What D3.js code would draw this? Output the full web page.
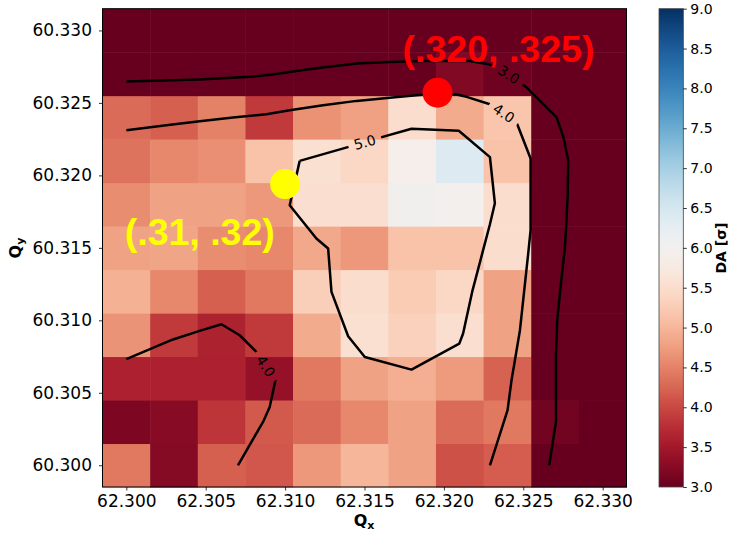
<!DOCTYPE html>
<html>
<head>
<meta charset="utf-8">
<script src="https://cdn.jsdelivr.net/npm/d3@7"></script>
<style>
  body { margin: 0; background: #fff; }
  svg { font-family: "DejaVu Sans", sans-serif; }
</style>
</head>
<body>
<div id="chart"></div>
<script>
// cell centres of the scan
const qx = [62.300, 62.303, 62.306, 62.309, 62.312, 62.315, 62.318, 62.321, 62.324, 62.327, 62.330];
const qy = [60.300, 60.303, 60.306, 60.309, 60.312, 60.315, 60.318, 60.321, 60.324, 60.327, 60.330];

// DA [sigma], one row per qy (bottom row first), one value per qx
const da = [
  [4.42, 3.24, 4.20, 4.12, 4.70, 5.00, 4.80, 4.08, 4.18, 2.80, 2.80],
  [3.18, 3.26, 3.83, 4.15, 4.30, 4.55, 4.80, 4.30, 4.42, 3.10, 2.80],
  [3.60, 3.60, 3.60, 3.38, 4.42, 4.80, 4.92, 4.72, 4.22, 2.80, 2.80],
  [4.65, 3.87, 3.62, 3.87, 4.88, 5.55, 5.32, 5.54, 4.80, 2.80, 2.80],
  [4.95, 4.55, 4.20, 4.42, 5.30, 5.50, 5.25, 5.42, 4.80, 2.80, 2.80],
  [4.80, 4.82, 4.60, 4.55, 4.85, 4.70, 5.15, 5.15, 5.50, 2.80, 2.80],
  [4.60, 4.80, 4.80, 4.70, 5.52, 5.52, 6.02, 5.95, 5.50, 2.80, 2.80],
  [4.37, 4.55, 4.62, 5.15, 5.55, 5.42, 5.91, 6.39, 5.15, 2.80, 2.80],
  [4.30, 4.20, 4.50, 3.87, 4.64, 4.78, 5.50, 4.88, 5.17, 2.80, 2.80],
  [2.80, 2.80, 2.80, 2.80, 2.80, 2.80, 2.80, 3.22, 3.06, 2.80, 2.80],
  [2.80, 2.80, 2.80, 2.80, 2.80, 2.80, 2.80, 2.80, 2.80, 2.80, 2.80]
];

const xTicks = [62.300, 62.305, 62.310, 62.315, 62.320, 62.325, 62.330];
const yTicks = [60.300, 60.305, 60.310, 60.315, 60.320, 60.325, 60.330];
const cbTicks = [3.0, 3.5, 4.0, 4.5, 5.0, 5.5, 6.0, 6.5, 7.0, 7.5, 8.0, 8.5, 9.0];

// contour lines, [qx, qy]
const contour30 = [
  [62.30000, 60.32647], [62.30462, 60.32662], [62.30777, 60.32680], [62.30922, 60.32696],
  [62.31092, 60.32723], [62.31237, 60.32745], [62.31450, 60.32772], [62.31659, 60.32783],
  [62.31867, 60.32790], [62.32080, 60.32790], [62.32164, 60.32789], [62.32290, 60.32765],
  [62.32517, 60.32611], [62.32710, 60.32400], [62.32752, 60.32266], [62.32783, 60.32105],
  [62.32779, 60.31852], [62.32769, 60.31622], [62.32762, 60.31507], [62.32735, 60.31231],
  [62.32714, 60.31001], [62.32706, 60.30773], [62.32706, 60.30299], [62.32663, 60.30000]
];
const contour40top = [
  [62.30000, 60.32312], [62.30252, 60.32346], [62.30462, 60.32374], [62.30672, 60.32400],
  [62.30882, 60.32422], [62.31029, 60.32450], [62.31239, 60.32484], [62.31450, 60.32514],
  [62.31659, 60.32535], [62.31828, 60.32553], [62.31956, 60.32564], [62.32080, 60.32558],
  [62.32143, 60.32542], [62.32290, 60.32491], [62.32462, 60.32353], [62.32546, 60.32117],
  [62.32546, 60.31622], [62.32531, 60.31461], [62.32479, 60.30932], [62.32426, 60.30587],
  [62.32401, 60.30380], [62.32290, 60.30000]
];
const contour40low = [
  [62.30000, 60.30732], [62.30294, 60.30868], [62.30462, 60.30927], [62.30599, 60.30973],
  [62.30714, 60.30897], [62.30819, 60.30782], [62.30939, 60.30587], [62.30903, 60.30402],
  [62.30861, 60.30299], [62.30703, 60.30000]
];
const contour50 = [
  [62.31092, 60.32100], [62.31395, 60.32195], [62.31609, 60.32264], [62.31796, 60.32322],
  [62.32094, 60.32308], [62.32290, 60.32126], [62.32321, 60.31808], [62.32290, 60.31663],
  [62.32247, 60.31484], [62.32178, 60.31196], [62.32121, 60.30909], [62.32097, 60.30839],
  [62.31796, 60.30660], [62.31502, 60.30747], [62.31397, 60.30890], [62.31292, 60.31196],
  [62.31271, 60.31496], [62.31197, 60.31565], [62.31029, 60.31794], [62.31092, 60.32100]
];
const contours = [contour30, contour40top, contour40low, contour50];

const levelLabels = [
  { text: "3.0", x: 62.32409, y: 60.32695, angle: 33 },
  { text: "4.0", x: 62.32378, y: 60.32429, angle: 33 },
  { text: "5.0", x: 62.31502, y: 60.32229, angle: -16 },
  { text: "4.0", x: 62.30878, y: 60.30683, angle: 58 }
];

// working points and their annotations
const points = [
  { x: 62.3196, y: 60.3257, color: "#ff0000", text: "(.320, .325)", tx: 62.3174, ty: 60.3278 },
  { x: 62.3100, y: 60.3194, color: "#ffff00", text: "(.31, .32)", tx: 62.2999, ty: 60.3152 }
];

const width = 729, height = 534;

const svg = d3.select("#chart").append("svg")
    .attr("width", width)
    .attr("height", height);

const step = qx[1] - qx[0];
const x = d3.scaleLinear()
    .domain([qx[0] - step / 2, qx[qx.length - 1] + step / 2])
    .range([102.5, 626.5]);
const y = d3.scaleLinear()
    .domain([qy[0] - step / 2, qy[qy.length - 1] + step / 2])
    .range([487, 8.7]);

const color = d3.scaleSequential(d3.interpolateRdBu).domain([3, 9]).clamp(true);

// heatmap cells
const cells = [];
da.forEach((row, j) => row.forEach((v, i) => cells.push({ qx: qx[i], qy: qy[j], v: v })));

svg.append("g")
  .selectAll("rect")
  .data(cells)
  .join("rect")
    .attr("x", d => x(d.qx - step / 2))
    .attr("y", d => y(d.qy + step / 2))
    .attr("width", d => x(d.qx + step / 2) - x(d.qx - step / 2) + 0.5)
    .attr("height", d => y(d.qy - step / 2) - y(d.qy + step / 2) + 0.5)
    .attr("fill", d => color(d.v));

// mask to cut the contour lines under their labels
const defs = svg.append("defs");
const mask = defs.append("mask").attr("id", "label-gaps");
mask.append("rect").attr("width", width).attr("height", height).attr("fill", "white");
mask.selectAll("rect.gap")
  .data(levelLabels)
  .join("rect")
    .attr("class", "gap")
    .attr("x", -17).attr("y", -8)
    .attr("width", 34).attr("height", 16)
    .attr("fill", "black")
    .attr("transform", d => `translate(${x(d.x)},${y(d.y)}) rotate(${d.angle})`);

const line = d3.line().x(d => x(d[0])).y(d => y(d[1]));

svg.append("g")
    .attr("mask", "url(#label-gaps)")
  .selectAll("path")
  .data(contours)
  .join("path")
    .attr("d", line)
    .attr("fill", "none")
    .attr("stroke", "black")
    .attr("stroke-width", 2.5)
    .attr("stroke-linejoin", "round");

svg.append("g")
  .selectAll("text")
  .data(levelLabels)
  .join("text")
    .attr("transform", d => `translate(${x(d.x)},${y(d.y)}) rotate(${d.angle})`)
    .attr("text-anchor", "middle")
    .attr("dy", "0.36em")
    .style("font-size", "14px")
    .text(d => d.text);

// frame
svg.append("rect")
    .attr("x", 102.5).attr("y", 8.7)
    .attr("width", 524).attr("height", 478.3)
    .attr("fill", "none")
    .attr("stroke", "black")
    .attr("stroke-width", 1);

// markers + annotations
svg.append("g")
  .selectAll("circle")
  .data(points)
  .join("circle")
    .attr("cx", d => x(d.x))
    .attr("cy", d => y(d.y))
    .attr("r", 15)
    .attr("fill", d => d.color);

svg.append("g")
  .selectAll("text")
  .data(points)
  .join("text")
    .attr("x", d => x(d.tx))
    .attr("y", d => y(d.ty))
    .attr("fill", d => d.color)
    .style("font-family", "'Liberation Sans', Arial, sans-serif")
    .style("font-weight", "bold")
    .style("font-size", "37.5px")
    .text(d => d.text);

// axes
const xAxis = svg.append("g")
    .attr("transform", "translate(0,487)")
    .call(d3.axisBottom(x).tickValues(xTicks).tickFormat(d3.format(".3f")).tickSize(3.5).tickPadding(4.5));
const yAxis = svg.append("g")
    .attr("transform", "translate(102.5,0)")
    .call(d3.axisLeft(y).tickValues(yTicks).tickFormat(d3.format(".3f")).tickSize(3.5).tickPadding(7));
[xAxis, yAxis].forEach(a => {
  a.select(".domain").remove();
  a.selectAll("text").style("font-size", "17px").style("font-family", "'DejaVu Sans', sans-serif").attr("fill", "black");
  a.selectAll("line").attr("stroke-width", 0.8);
});

svg.append("text")
    .attr("x", 364).attr("y", 526)
    .attr("text-anchor", "middle")
    .style("font-weight", "bold").style("font-size", "16px")
    .text("Q")
  .append("tspan")
    .attr("dy", 3).style("font-size", "11px")
    .text("x");

svg.append("text")
    .attr("transform", "translate(21,248) rotate(-90)")
    .attr("text-anchor", "middle")
    .style("font-weight", "bold").style("font-size", "16px")
    .text("Q")
  .append("tspan")
    .attr("dy", 3).style("font-size", "11px")
    .text("y");

// colorbar
const cb = { x: 659, w: 24.3, top: 8.7, bottom: 487 };
const cbScale = d3.scaleLinear().domain([3, 9]).range([cb.bottom, cb.top]);

const grad = defs.append("linearGradient")
    .attr("id", "cb-grad")
    .attr("x1", 0).attr("y1", 1).attr("x2", 0).attr("y2", 0);
grad.selectAll("stop")
  .data(d3.range(0, 1.0001, 0.02))
  .join("stop")
    .attr("offset", t => t)
    .attr("stop-color", t => d3.interpolateRdBu(t));

svg.append("rect")
    .attr("x", cb.x).attr("y", cb.top)
    .attr("width", cb.w).attr("height", cb.bottom - cb.top)
    .attr("fill", "url(#cb-grad)")
    .attr("stroke", "#444")
    .attr("stroke-width", 0.8);

const cbAxis = svg.append("g")
    .attr("transform", `translate(${cb.x + cb.w},0)`)
    .call(d3.axisRight(cbScale).tickValues(cbTicks).tickFormat(d3.format(".1f")).tickSize(3.5).tickPadding(3.5));
cbAxis.select(".domain").remove();
cbAxis.selectAll("text").style("font-size", "14px").style("font-family", "'DejaVu Sans', sans-serif").attr("fill", "black");
cbAxis.selectAll("line").attr("stroke-width", 0.8);

svg.append("text")
    .attr("transform", "translate(725.5,248) rotate(-90)")
    .attr("text-anchor", "middle")
    .style("font-weight", "bold").style("font-size", "14px")
    .text("DA [σ]");
</script>
</body>
</html>
